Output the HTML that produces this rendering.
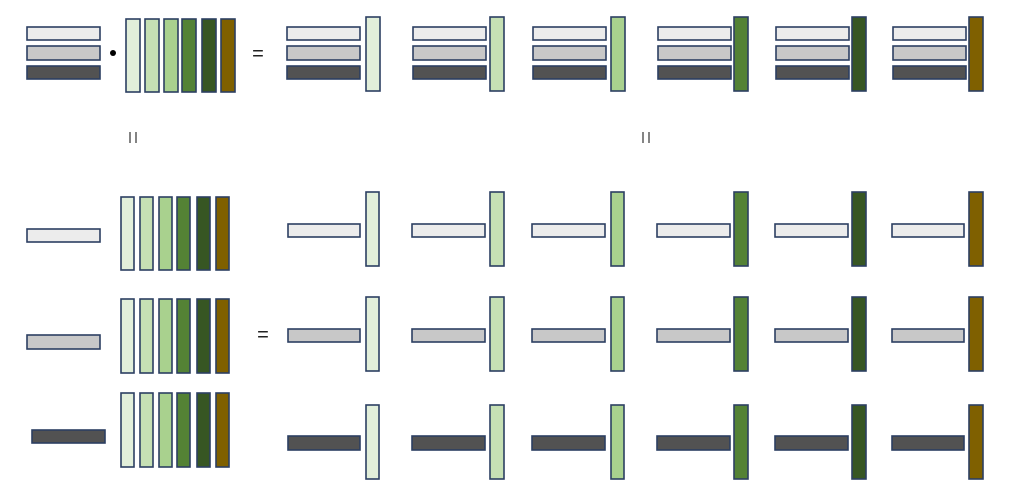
<!DOCTYPE html>
<html><head><meta charset="utf-8"><style>
html,body{margin:0;padding:0;background:#fff;width:1024px;height:489px;overflow:hidden}
svg{display:block}
rect{stroke:#2c3f62;stroke-width:1.6}
.g1{fill:#ececec}.g2{fill:#c8c8c8}.g3{fill:#525252}
.c1{fill:#e2efda}.c2{fill:#c6e0b4}.c3{fill:#a9d18e}.c4{fill:#548235}.c5{fill:#375623}.c6{fill:#7f6000}
text{font-family:"Liberation Sans",sans-serif;fill:#222}
</style></head><body>
<svg width="1024" height="489" viewBox="0 0 1024 489">
<rect class="g1" x="27" y="27" width="73" height="13"/>
<rect class="g2" x="27" y="46" width="73" height="14"/>
<rect class="g3" x="27" y="66" width="73" height="13"/>
<circle cx="113" cy="53" r="3" fill="#000"/>
<rect class="c1" x="126" y="19" width="14" height="73"/>
<rect class="c2" x="145" y="19" width="14" height="73"/>
<rect class="c3" x="164" y="19" width="14" height="73"/>
<rect class="c4" x="182" y="19" width="14" height="73"/>
<rect class="c5" x="202" y="19" width="14" height="73"/>
<rect class="c6" x="221" y="19" width="14" height="73"/>
<text x="258" y="60" font-size="20" text-anchor="middle">=</text>
<g>
<rect class="g1" x="287" y="27" width="73" height="13"/><rect class="g2" x="287" y="46" width="73" height="14"/><rect class="g3" x="287" y="66" width="73" height="13"/><rect class="c1" x="366" y="17" width="14" height="74"/>
<rect class="g1" x="413" y="27" width="73" height="13"/><rect class="g2" x="413" y="46" width="73" height="14"/><rect class="g3" x="413" y="66" width="73" height="13"/><rect class="c2" x="490" y="17" width="14" height="74"/>
<rect class="g1" x="533" y="27" width="73" height="13"/><rect class="g2" x="533" y="46" width="73" height="14"/><rect class="g3" x="533" y="66" width="73" height="13"/><rect class="c3" x="611" y="17" width="14" height="74"/>
<rect class="g1" x="658" y="27" width="73" height="13"/><rect class="g2" x="658" y="46" width="73" height="14"/><rect class="g3" x="658" y="66" width="73" height="13"/><rect class="c4" x="734" y="17" width="14" height="74"/>
<rect class="g1" x="776" y="27" width="73" height="13"/><rect class="g2" x="776" y="46" width="73" height="14"/><rect class="g3" x="776" y="66" width="73" height="13"/><rect class="c5" x="852" y="17" width="14" height="74"/>
<rect class="g1" x="893" y="27" width="73" height="13"/><rect class="g2" x="893" y="46" width="73" height="14"/><rect class="g3" x="893" y="66" width="73" height="13"/><rect class="c6" x="969" y="17" width="14" height="74"/>
</g>
<line x1="130" y1="132" x2="130" y2="143" stroke="#333" stroke-width="1.2"/>
<line x1="136" y1="132" x2="136" y2="143" stroke="#333" stroke-width="1.2"/>
<line x1="643" y1="132" x2="643" y2="143" stroke="#333" stroke-width="1.2"/>
<line x1="649" y1="132" x2="649" y2="143" stroke="#333" stroke-width="1.2"/>
<rect class="g1" x="27" y="229" width="73" height="13"/>
<rect class="c1" x="121" y="197" width="13" height="73"/><rect class="c2" x="140" y="197" width="13" height="73"/><rect class="c3" x="159" y="197" width="13" height="73"/><rect class="c4" x="177" y="197" width="13" height="73"/><rect class="c5" x="197" y="197" width="13" height="73"/><rect class="c6" x="216" y="197" width="13" height="73"/>
<rect class="g1" x="288" y="224" width="72" height="13"/><rect class="c1" x="366" y="192" width="13" height="74"/>
<rect class="g1" x="412" y="224" width="73" height="13"/><rect class="c2" x="490" y="192" width="14" height="74"/>
<rect class="g1" x="532" y="224" width="73" height="13"/><rect class="c3" x="611" y="192" width="13" height="74"/>
<rect class="g1" x="657" y="224" width="73" height="13"/><rect class="c4" x="734" y="192" width="14" height="74"/>
<rect class="g1" x="775" y="224" width="73" height="13"/><rect class="c5" x="852" y="192" width="14" height="74"/>
<rect class="g1" x="892" y="224" width="72" height="13"/><rect class="c6" x="969" y="192" width="14" height="74"/>
<rect class="g2" x="27" y="335" width="73" height="14"/>
<rect class="c1" x="121" y="299" width="13" height="74"/><rect class="c2" x="140" y="299" width="13" height="74"/><rect class="c3" x="159" y="299" width="13" height="74"/><rect class="c4" x="177" y="299" width="13" height="74"/><rect class="c5" x="197" y="299" width="13" height="74"/><rect class="c6" x="216" y="299" width="13" height="74"/>
<text x="263" y="341" font-size="20" text-anchor="middle">=</text>
<rect class="g2" x="288" y="329" width="72" height="13"/><rect class="c1" x="366" y="297" width="13" height="74"/>
<rect class="g2" x="412" y="329" width="73" height="13"/><rect class="c2" x="490" y="297" width="14" height="74"/>
<rect class="g2" x="532" y="329" width="73" height="13"/><rect class="c3" x="611" y="297" width="13" height="74"/>
<rect class="g2" x="657" y="329" width="73" height="13"/><rect class="c4" x="734" y="297" width="14" height="74"/>
<rect class="g2" x="775" y="329" width="73" height="13"/><rect class="c5" x="852" y="297" width="14" height="74"/>
<rect class="g2" x="892" y="329" width="72" height="13"/><rect class="c6" x="969" y="297" width="14" height="74"/>
<rect class="g3" x="32" y="430" width="73" height="13"/>
<rect class="c1" x="121" y="393" width="13" height="74"/><rect class="c2" x="140" y="393" width="13" height="74"/><rect class="c3" x="159" y="393" width="13" height="74"/><rect class="c4" x="177" y="393" width="13" height="74"/><rect class="c5" x="197" y="393" width="13" height="74"/><rect class="c6" x="216" y="393" width="13" height="74"/>
<rect class="g3" x="288" y="436" width="72" height="14"/><rect class="c1" x="366" y="405" width="13" height="74"/>
<rect class="g3" x="412" y="436" width="73" height="14"/><rect class="c2" x="490" y="405" width="14" height="74"/>
<rect class="g3" x="532" y="436" width="73" height="14"/><rect class="c3" x="611" y="405" width="13" height="74"/>
<rect class="g3" x="657" y="436" width="73" height="14"/><rect class="c4" x="734" y="405" width="14" height="74"/>
<rect class="g3" x="775" y="436" width="73" height="14"/><rect class="c5" x="852" y="405" width="14" height="74"/>
<rect class="g3" x="892" y="436" width="72" height="14"/><rect class="c6" x="969" y="405" width="14" height="74"/>
</svg>
</body></html>
